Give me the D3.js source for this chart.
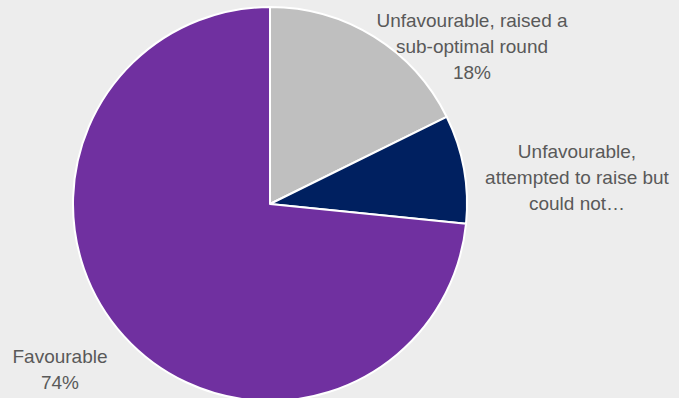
<!DOCTYPE html>
<html>
<head>
<meta charset="utf-8">
<script src="https://cdn.jsdelivr.net/npm/d3@7"></script>
<style>
  html, body { margin: 0; padding: 0; background: #ededed; }
  svg { display: block; }
  .lbl { font-family: "Liberation Sans", Arial, sans-serif; font-size: 19px; fill: #595959; }
</style>
</head>
<body>
<div id="chart"></div>
<script>
// ============================================================
//  Data
// ============================================================
const categories = [
  'Unfavourable, raised a sub-optimal round',
  'Unfavourable, attempted to raise but could not…',
  'Favourable'
];
const values = [17.7, 8.9, 73.4];
const colors = ['#bfbfbf', '#002060', '#7030a0'];
// label lines as shown on the chart (data labels)
const labelLines = [
  ['Unfavourable, raised a', 'sub-optimal round', '18%'],
  ['Unfavourable,', 'attempted to raise but', 'could not…'],
  ['Favourable', '74%']
];

// ============================================================
//  Layout
// ============================================================
const width = 679, height = 398;
const cx = 270, cy = 204, radius = 197;
// label anchor (centre x, first baseline y)
const labelPos = [[472, 27], [577, 158], [60, 363]];
const lineGap = 26;

const svg = d3.select('#chart').append('svg')
  .attr('width', width)
  .attr('height', height);

const pie = d3.pie().sort(null).value(d => d);
const arc = d3.arc().innerRadius(0).outerRadius(radius);

const g = svg.append('g').attr('transform', `translate(${cx},${cy})`);

g.selectAll('path')
  .data(pie(values))
  .join('path')
  .attr('d', arc)
  .attr('fill', (d, i) => colors[i])
  .attr('stroke', '#ffffff')
  .attr('stroke-width', 2)
  .attr('stroke-linejoin', 'round');

// Labels
labelLines.forEach((lines, i) => {
  const t = svg.append('text')
    .attr('class', 'lbl')
    .attr('text-anchor', 'middle');
  lines.forEach((ln, j) => {
    t.append('tspan')
      .attr('x', labelPos[i][0])
      .attr('y', labelPos[i][1] + j * lineGap)
      .text(ln);
  });
});
</script>
</body>
</html>
